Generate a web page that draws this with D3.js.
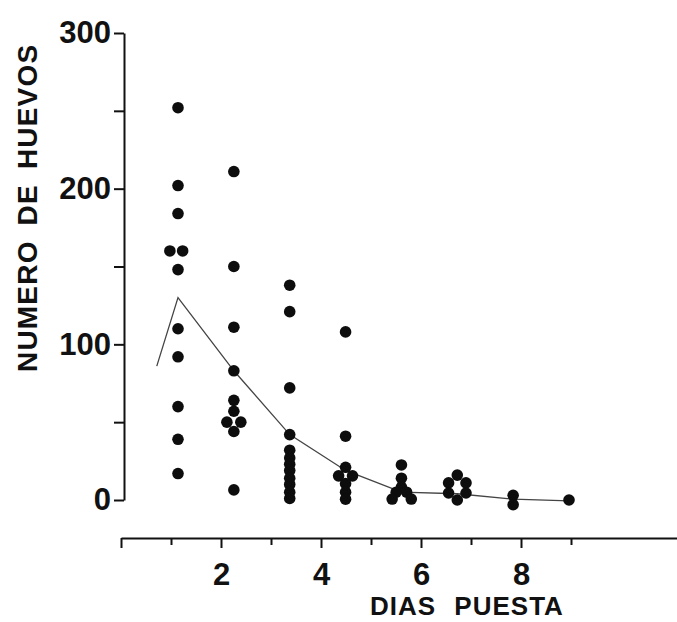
<!DOCTYPE html>
<html>
<head>
<meta charset="utf-8">
<script src="https://cdn.jsdelivr.net/npm/d3@7"></script>
<style>
  body { margin: 0; background: #fff; }
  svg { display: block; font-family: "Liberation Sans", Arial, sans-serif; font-weight: bold; }
  .tick text { font-size: 31px; fill: #111; }
  .domain, .tick line { stroke: #111; stroke-width: 2; }
  .title { font-size: 28px; fill: #111; }
</style>
</head>
<body>
<div id="scene"></div>
<script>
// scatter of eggs per female by laying day, plus the mean curve
const dotDay  = [1,1,1,1,1,1,1,1,1,1,1,
                 2,2,2,2,2,2,2,2,2,2,
                 3,3,3,3,3,3,3,3,3,3,3,3,
                 4,4,4,4,4,4,4,4,
                 5,5,5,5,5,5,5,
                 6,6,6,6,6,6,
                 7,7,
                 8];
const dotEggs = [252,202,184,160,160,148,110,92,60,39,17,
                 211,150,111,83,64,57,50,50,44,6.5,
                 138,121,72,42,32,27,23,19,14,10,5,1,
                 108,41,21,15.5,15.5,10.5,5,0.5,
                 22.5,14,8.3,5,5,0.6,0.6,
                 16,11,11,4.5,4.5,0,
                 3,-3,
                 0];
// sideways nudge of overlapping dots, in dot radii
const dotSide = [0,0,0,-1.4,0.8,0,0,0,0,0,0,
                 0,0,0,0,0,0,-1.2,1.2,0,0,
                 0,0,0,0,0,0,0,0,0,0,0,0,
                 0,0,0,-1.2,1.2,0,0,0,
                 0,0,0,-0.9,0.9,-1.6,1.7,
                 0,-1.5,1.5,-1.5,1.5,0,
                 0,0,
                 0];

const meanDay  = [0.62, 1, 2, 3, 4, 5, 6, 7, 8];
const meanEggs = [86, 130, 83, 42, 19, 5, 4, 0.5, -0.5];

const yTicks = [0, 50, 100, 150, 200, 250, 300];
const yLabels = [0, 100, 200, 300];
const xTicks = [0, 1, 2, 3, 4, 5, 6, 7, 8, 9];
const xLabels = [2, 4, 6, 8];

const width = 677;
const height = 622;
const r = 5.8;

const svg = d3.select("#scene")
    .append("svg")
    .attr("width", width)
    .attr("height", height);

const yScale = d3.scaleLinear().domain([0, 300]).range([500, 33]);
// the printed axis and the plotted columns use different spacing
const xAxisScale = d3.scaleLinear().domain([0, 11.2]).range([121, 681]);
const xScale = d3.scaleLinear().domain([1, 8]).range([178, 569]);

const yAxis = d3.axisLeft(yScale)
    .tickValues(yTicks)
    .tickSize(10)
    .tickSizeOuter(0)
    .tickPadding(3)
    .tickFormat(d => yLabels.includes(d) ? d : "");

svg.append("g")
    .attr("transform", "translate(124,0)")
    .call(yAxis);

const xAxis = d3.axisBottom(xAxisScale)
    .tickValues(xTicks)
    .tickSizeOuter(0)
    .tickPadding(8)
    .tickFormat(d => xLabels.includes(d) ? d : "");

const gx = svg.append("g")
    .attr("transform", "translate(0,538)")
    .call(xAxis);

gx.selectAll(".tick line")
    .attr("y2", d => d % 2 === 0 ? 10 : 7);

gx.selectAll(".tick text").attr("dy", "1.05em");

const line = d3.line()
    .x((d, i) => xScale(meanDay[i]))
    .y((d, i) => yScale(meanEggs[i]));

svg.append("path")
    .datum(meanEggs)
    .attr("d", line)
    .attr("fill", "none")
    .attr("stroke", "#444")
    .attr("stroke-width", 1.3);

svg.selectAll(".dot")
    .data(dotEggs)
    .enter().append("circle")
    .attr("class", "dot")
    .attr("cx", (d, i) => xScale(dotDay[i]) + dotSide[i] * r)
    .attr("cy", d => yScale(d))
    .attr("r", r)
    .attr("fill", "#0d0d0d");

svg.append("text")
    .attr("class", "title")
    .attr("transform", "translate(37,372) rotate(-90)")
    .attr("text-anchor", "start")
    .style("letter-spacing", "1.2px")
    .style("word-spacing", "6px")
    .text("NUMERO DE HUEVOS");

svg.append("text")
    .attr("class", "title")
    .style("font-size", "26px")
    .attr("x", 370)
    .attr("y", 615)
    .style("letter-spacing", "1px")
    .style("word-spacing", "10px")
    .text("DIAS PUESTA");
</script>
</body>
</html>
